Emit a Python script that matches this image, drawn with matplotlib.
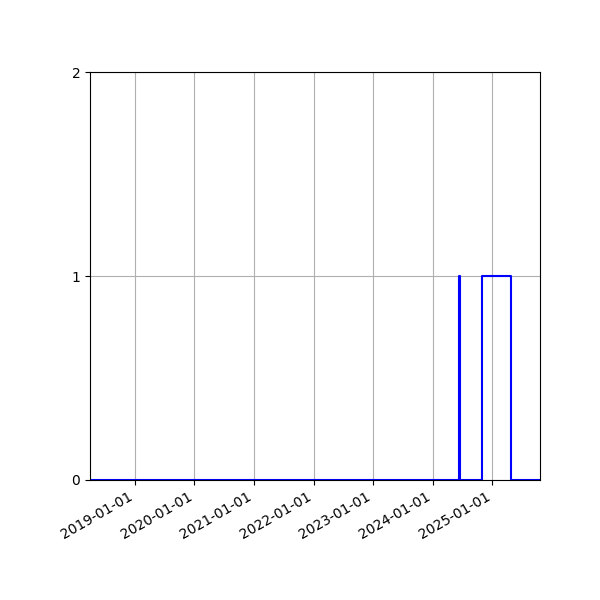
import matplotlib
matplotlib.use("Agg")
import matplotlib.pyplot as plt
import matplotlib.dates as mdates
import pandas as pd

# Step series: state changes over time (0/1)
dates = pd.to_datetime([
    "2018-04-01", "2024-06-09", "2024-06-19",
    "2024-10-27", "2025-04-26", "2025-10-20",
])
values = [0, 1, 0, 1, 0, 0]
yticks = [0, 1, 2]

fig, ax = plt.subplots(figsize=(6, 6), dpi=100)

ax.plot(dates, values, drawstyle="steps-post", color="blue", linewidth=1.5)

ax.set_xlim(dates[0], dates[-1])
ax.set_ylim(0, 2)
ax.set_yticks(yticks)
ax.xaxis.set_major_locator(mdates.YearLocator())
ax.xaxis.set_major_formatter(mdates.DateFormatter("%Y-%m-%d"))
ax.grid(True)
fig.autofmt_xdate()
fig.subplots_adjust(left=0.15, right=0.9, top=0.88, bottom=0.2)

fig.savefig("out.png")
